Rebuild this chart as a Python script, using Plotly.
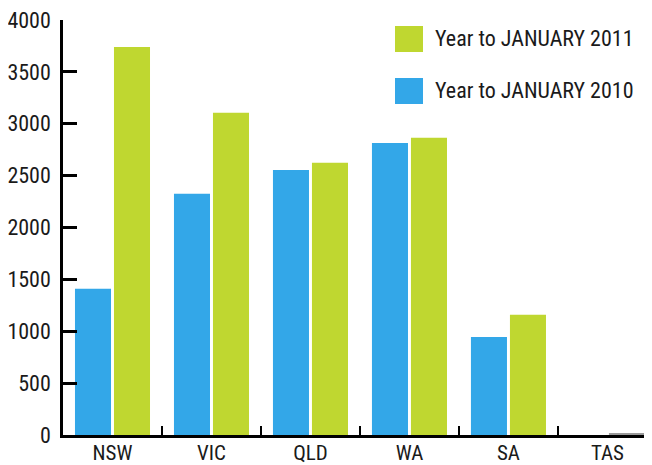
import plotly.graph_objects as go

states = ["NSW", "VIC", "QLD", "WA", "SA", "TAS"]
year_2010 = [1410, 2325, 2555, 2815, 945, 0]
year_2011 = [3740, 3105, 2625, 2865, 1160, 20]
y_ticks = [0, 500, 1000, 1500, 2000, 2500, 3000, 3500, 4000]
legend_labels = ["Year to JANUARY 2011", "Year to JANUARY 2010"]

BLUE = "#33A7E8"
GREEN = "#BFD730"
GREY = "#9A9A9A"
FONT = "Liberation Sans Narrow, Arial Narrow, Roboto Condensed, Liberation Sans, sans-serif"

fig = go.Figure()
fig.add_trace(go.Bar(
    x=states, y=year_2010, name=legend_labels[1],
    marker=dict(color=BLUE, line=dict(width=0)),
    width=0.364, offset=-0.379,
))
fig.add_trace(go.Bar(
    x=states, y=year_2011, name=legend_labels[0],
    marker=dict(color=[GREEN] * 5 + [GREY], line=dict(width=0)),
    width=0.364, offset=0.015,
))

# page body adds an 8px offset, so the figure is 8px smaller and margins shifted
fig.update_layout(
    width=644, height=457,
    margin=dict(l=55, r=0, t=12, b=30, autoexpand=False),
    paper_bgcolor="white", plot_bgcolor="white",
    showlegend=False,
    barmode="overlay",
    font=dict(family=FONT, size=22, color="#1a1a1a"),
)
fig.update_xaxes(
    type="category", range=[-0.5, 5.45],
    showline=True, linecolor="black", linewidth=2.5,
    ticks="inside", tickson="boundaries", ticklen=9, tickwidth=2, tickcolor="black",
    showgrid=False, zeroline=False, automargin=False,
    ticklabeloverflow="allow", ticklabelstandoff=-3,
    tickfont=dict(family=FONT, size=21, color="#1a1a1a"),
)
fig.update_yaxes(
    range=[0, 4000], tickvals=y_ticks,
    showline=True, linecolor="black", linewidth=2.5,
    ticks="inside", ticklen=14, tickwidth=2.5, tickcolor="black",
    showgrid=False, zeroline=False, automargin=False,
    ticklabeloverflow="allow", ticklabelstandoff=5,
    tickfont=dict(family=FONT, size=22, color="#1a1a1a"),
)

# custom legend (large swatches as in the reference)
legend_colors = [GREEN, BLUE]
for i, (lab, col) in enumerate(zip(legend_labels, legend_colors)):
    y0 = 1 - (26 + 52 * i - 20) / 415
    fig.add_shape(type="rect", xref="paper", yref="paper",
                  x0=(395 - 63) / 589, x1=(423 - 63) / 589,
                  y0=y0 - 26 / 415, y1=y0,
                  fillcolor=col, line=dict(width=0), layer="above")
    fig.add_annotation(xref="paper", yref="paper",
                       x=(433 - 63) / 589, y=y0 - 13 / 415,
                       text=lab, showarrow=False, xanchor="left", yanchor="middle",
                       font=dict(family=FONT, size=22, color="#1a1a1a"))

fig.write_html("out.html")
